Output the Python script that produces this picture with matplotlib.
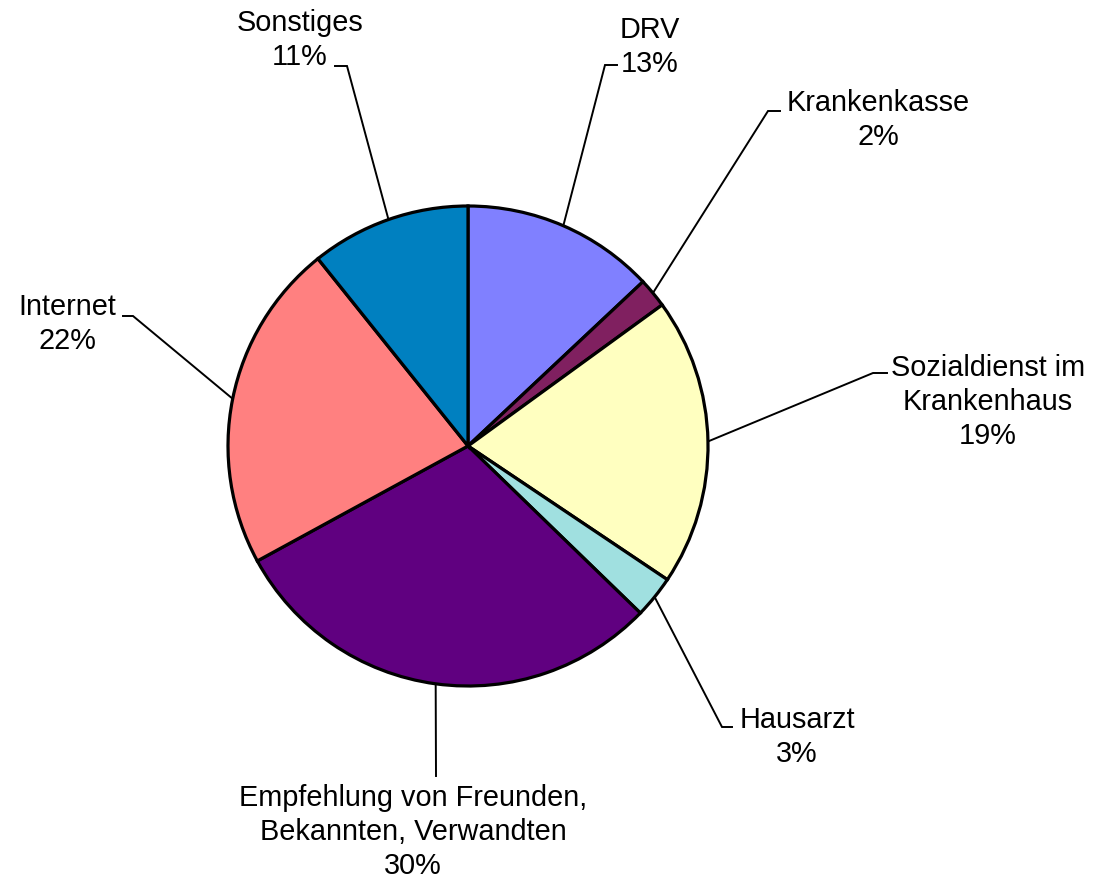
import numpy as np
import matplotlib
matplotlib.use("Agg")
from matplotlib import pyplot as plt

# sources of information (share in percent)
labels = ["DRV", "Krankenkasse", "Sozialdienst im\nKrankenhaus", "Hausarzt",
          "Empfehlung von Freunden,\nBekannten, Verwandten", "Internet", "Sonstiges"]
values = [13.0, 2.0, 19.4, 2.85, 29.8, 22.2, 10.75]
colors = ["#8080FF", "#802060", "#FFFFC0", "#A0E0E0", "#600080", "#FF8080", "#0080C0"]

W, H = 1095, 879
CX, CY, R = 468, 447, 240

# label layout in pixel coords: text centre, elbow of leader, end of short tick
text_pos = [(650, 47), (878, 120), (988, 402), (797, 737), (413, 832), (67, 324), (300, 40)]
elbows = [(605, 66), (768, 112), (873, 374), (722, 728), (436, 777), (133, 317), (347, 67)]
ticks = [(617, 66), (780, 112), (887, 374), (732, 728), (436, 777), (123, 317), (335, 67)]

plt.rcParams["font.family"] = ["Liberation Sans", "DejaVu Sans"]

fig = plt.figure(figsize=(W / 100, H / 100), dpi=100)
ax = fig.add_axes([0, 0, 1, 1])

wedges, _ = ax.pie(values, colors=colors, startangle=90, counterclock=False,
                   center=(CX, H - CY), radius=R,
                   wedgeprops=dict(edgecolor="black", linewidth=2.3))

total = sum(values)
for w, lab, v, tp, el, tk in zip(wedges, labels, values, text_pos, elbows, ticks):
    mid = np.deg2rad((w.theta1 + w.theta2) / 2)
    x0 = CX + R * np.cos(mid)
    y0 = (H - CY) + R * np.sin(mid)
    ax.plot([x0, el[0], tk[0]], [y0, H - el[1], H - tk[1]], color="black", lw=1.4,
            solid_joinstyle="miter", zorder=0)
    pct = int(round(100 * v / total))
    ax.text(tp[0], H - tp[1], f"{lab}\n{pct}%", ha="center", va="center",
            fontsize=20.8, linespacing=1.26, color="black")

ax.set_xlim(0, W)
ax.set_ylim(0, H)
ax.set_aspect("equal")
ax.axis("off")

fig.savefig("out.png", dpi=100, facecolor="white")
